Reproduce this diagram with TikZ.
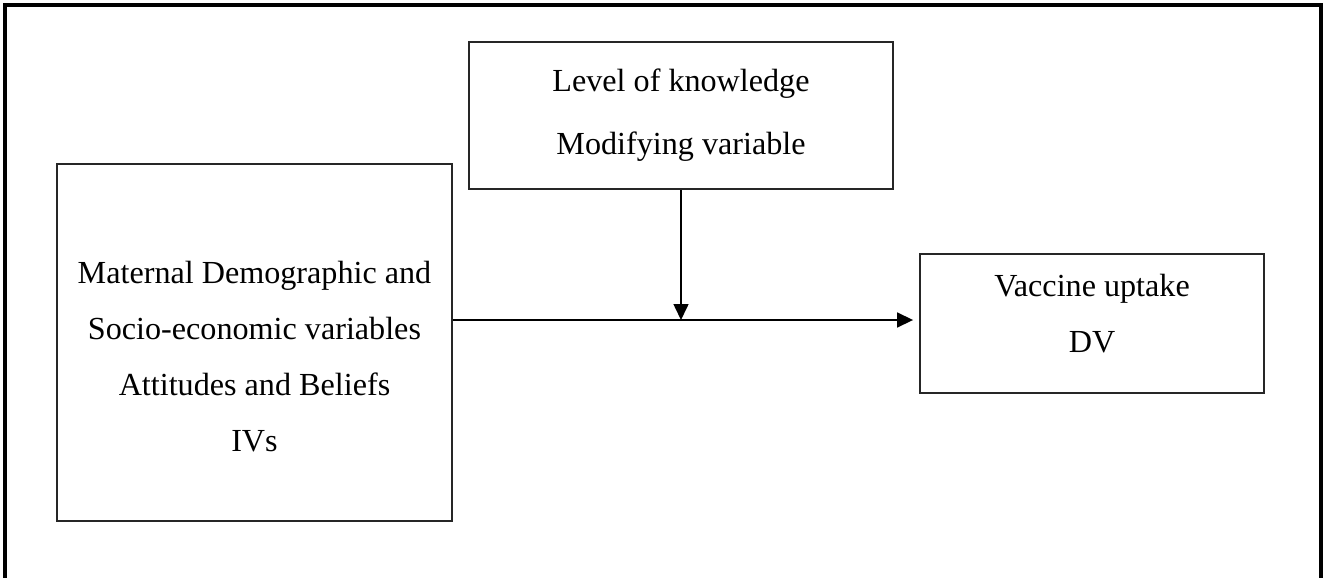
\documentclass[tikz,border=0pt]{standalone}
\usepackage{fontspec}
\setmainfont{Liberation Serif}
\usetikzlibrary{arrows.meta}

\tikzset{
  varbox/.style={draw=black!85, line width=1.1pt, align=center,
    font=\fontsize{18.3}{31.9}\selectfont},
  flow/.style={-{Triangle[length=0.32cm,width=0.3cm]}, line width=0.9pt}
}

\begin{document}
\begin{tikzpicture}[x=0.02cm, y=-0.02cm]
  \useasboundingbox (0,0) rectangle (1323,578);
  % outer frame, runs on past the bottom edge
  \draw[line width=2pt] (5,600) -- (5,5) -- (1321,5) -- (1321,600);
  \node[varbox, minimum width=7.9cm, minimum height=7.14cm] (IV) at (254.5,342.5)
    {\rule{0pt}{29pt}Maternal Demographic and\\Socio-economic variables\\Attitudes and Beliefs\\IVs};
  \node[varbox, minimum width=8.48cm, minimum height=2.94cm] (MOD) at (681,115.5)
    {Level of knowledge\\[3.8pt]Modifying variable};
  \node[varbox, minimum width=6.88cm, minimum height=2.78cm] (DV) at (1092,323.5)
    {Vaccine uptake\\DV\rule[-11.4pt]{0pt}{11.4pt}};
  \coordinate (L) at (0,320);
  \coordinate (J) at (MOD.south |- L);
  \draw[flow, shorten >=0.12cm] (IV.east |- L) -- (DV.west |- L);
  \draw[flow] (MOD.south) -- (J);
\end{tikzpicture}
\end{document}
